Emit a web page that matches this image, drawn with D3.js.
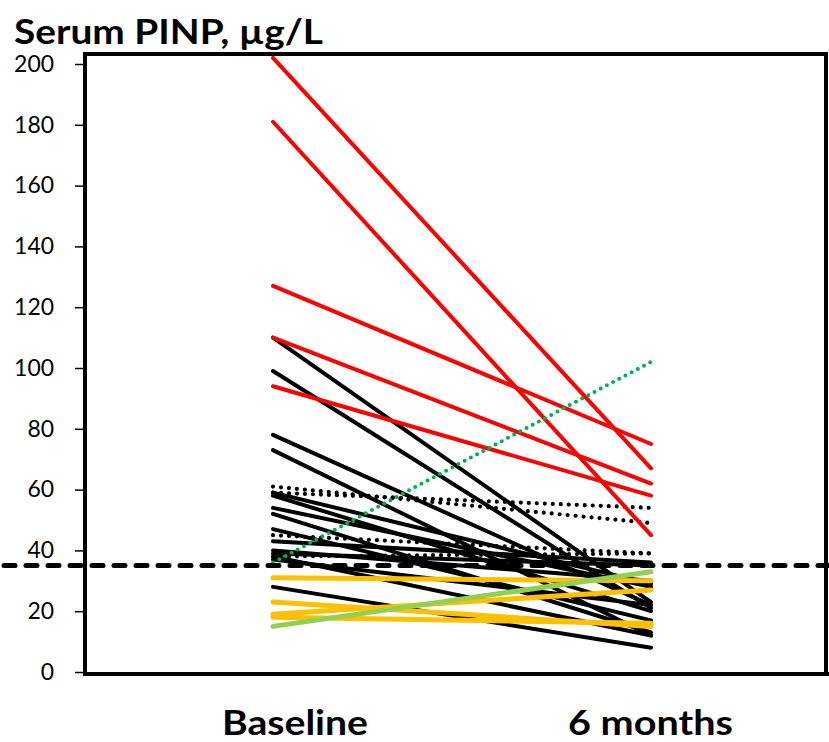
<!DOCTYPE html>
<html>
<head>
<meta charset="utf-8">
<script src="https://cdn.jsdelivr.net/npm/d3@7/dist/d3.min.js"></script>
<style>
  body { margin: 0; background: #fff; }
  svg { display: block; font-family: Lato, "Open Sans", sans-serif; }
</style>
</head>
<body>
<svg id="chart" width="829" height="742"></svg>
<script>
// time points
const timePoints = ["Baseline", "6 months"];
const yTicks = [0, 20, 40, 60, 80, 100, 120, 140, 160, 180, 200];
const refLevel = 35;

// red (high responders)
const redBase = [202, 181, 127, 110, 94];
const redSix  = [67, 45, 75, 62, 58];

// black solid
const blackBase = [110, 99, 78, 73, 59, 58, 54, 52, 47, 43, 40, 39, 38, 37, 28];
const blackSix  = [23, 21, 22, 12, 29, 20, 28, 13, 17, 36, 30, 35, 12, 22, 8];

// black dotted
const dotBase = [61, 59, 45, 38];
const dotSix  = [49, 54, 39, 39];

// orange
const orangeBase = [31, 23, 19, 18];
const orangeSix  = [30, 15, 27, 16];

// light green
const lgreenBase = [15];
const lgreenSix  = [33];

// green dotted
const gdotBase = [36];
const gdotSix  = [102];

const svg = d3.select("#chart");

const x = d3.scalePoint()
    .domain(timePoints)
    .range([273, 651]);

const y = d3.scaleLinear()
    .domain([0, 200])
    .range([672, 64]);

const frame = { left: 85, top: 54, right: 826, bottom: 674 };

// frame (left / top / right)
svg.append("path")
    .attr("d", `M${frame.left},${frame.bottom} V${frame.top} H${frame.right} V${frame.bottom}`)
    .attr("fill", "none")
    .attr("stroke", "#000")
    .attr("stroke-width", 4);
svg.append("line")
    .attr("x1", frame.left - 2).attr("x2", 829)
    .attr("y1", frame.bottom).attr("y2", frame.bottom)
    .attr("stroke", "#000").attr("stroke-width", 4);

// y axis ticks + labels
const yAxis = d3.axisLeft(y)
    .tickValues(yTicks)
    .tickSize(9)
    .tickPadding(21);
const gy = svg.append("g")
    .attr("transform", `translate(${frame.left - 1},0)`)
    .call(yAxis);
gy.select(".domain").remove();
gy.selectAll(".tick line").attr("stroke-width", 1.5);
gy.selectAll(".tick text")
    .attr("font-size", 23)
    .attr("fill", "#000")
    .attr("font-family", "Lato, sans-serif")
    .attr("textLength", d => String(d).length * 13.3)
    .attr("lengthAdjust", "spacingAndGlyphs");

// line groups
function drawPairs(base, six, opts) {
    const data = base.map((b, i) => [b, six[i]]);
    const line = d3.line()
        .x((d, i) => x(timePoints[i]))
        .y(d => y(d));
    svg.append("g")
        .selectAll("path")
        .data(data)
        .join("path")
        .attr("d", line)
        .attr("fill", "none")
        .attr("stroke", opts.color)
        .attr("stroke-width", opts.width)
        .attr("stroke-linecap", "round")
        .attr("stroke-dasharray", opts.dash || null);
}

drawPairs(blackBase, blackSix, { color: "#000", width: 4 });
drawPairs(dotBase, dotSix, { color: "#000", width: 4.2, dash: "0 8" });
drawPairs(orangeBase, orangeSix, { color: "#FFC000", width: 5 });
drawPairs(lgreenBase, lgreenSix, { color: "#92D050", width: 5 });
drawPairs(redBase, redSix, { color: "#FF0000", width: 4 });
drawPairs(gdotBase, gdotSix, { color: "#00B050", width: 4, dash: "0 7" });

// reference dashed line
svg.append("line")
    .attr("x1", 4).attr("x2", 829)
    .attr("y1", y(refLevel)).attr("y2", y(refLevel))
    .attr("stroke", "#000")
    .attr("stroke-width", 5)
    .attr("stroke-linecap", "round")
    .attr("stroke-dasharray", "11 11");

// title
svg.append("text")
    .attr("x", 14)
    .attr("y", 44)
    .attr("font-size", 35)
    .attr("font-weight", "bold")
    .attr("textLength", 309)
    .attr("lengthAdjust", "spacingAndGlyphs")
    .text("Serum PINP, µg/L");

// x labels
const xlabW = { "Baseline": 146, "6 months": 165 };
const xlabX = { "Baseline": 222, "6 months": 568 };
timePoints.forEach(t => {
    svg.append("text")
        .attr("x", xlabX[t])
        .attr("y", 735)
        .attr("font-size", 34)
        .attr("font-weight", "bold")
        .attr("textLength", xlabW[t])
        .attr("lengthAdjust", "spacingAndGlyphs")
        .text(t);
});
</script>
</body>
</html>
